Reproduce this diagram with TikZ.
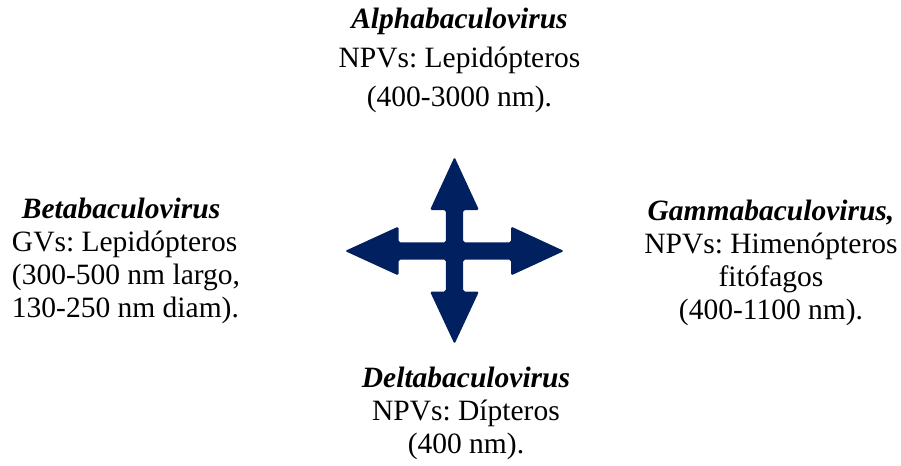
\documentclass[tikz,border=0pt]{standalone}
\usepackage{fontspec}
\setmainfont{Liberation Serif}
\usepackage{tikz}
\usepackage{xcolor}
\definecolor{navy}{HTML}{002060}
\frenchspacing

\begin{document}
\begin{tikzpicture}[x=0.5pt, y=-0.5pt]
    \tikzset{genus/.style={inner sep=0pt, font=\fontsize{14.75}{16.5}\selectfont}}
    \useasboundingbox (0,0) rectangle (901,466);

    % four-way arrow
    \coordinate (hub) at (454.5,251);
    \fill[navy, rounded corners=0.8pt] (454.5,157) -- (479,210) -- (463.2,210) -- (463.2,242.3)
        -- (511,242.3) -- (511,226.5) -- (564,251) -- (511,275.5) -- (511,259.7)
        -- (463.2,259.7) -- (463.2,291.5) -- (479,291.5) -- (454.5,344) -- (430,291.5)
        -- (445.8,291.5) -- (445.8,259.7) -- (398.5,259.7) -- (398.5,275.5) -- (345,251)
        -- (398.5,226.5) -- (398.5,242.3) -- (445.8,242.3) -- (445.8,210) -- (430,210) -- cycle;

    \node[genus, align=center, font=\fontsize{14.75}{19.5}\selectfont] (alpha) at (459.5,60.5)
        {\textbf{\textit{Alphabaculovirus}}\\NPVs: Lepidópteros\\(400-3000 nm).};
    \node[genus, align=left] (beta) at (126,261)
        {\hspace*{5pt}\textbf{\textit{Betabaculovirus}}\\GVs: Lepidópteros\\(300-500 nm largo,\\130-250 nm diam).};
    \node[genus, align=center] (gamma) at (771,262.5)
        {\textbf{\textit{Gammabaculovirus,}}\\NPVs: Himenópteros\\fitófagos\\(400-1100 nm).};
    \node[genus, align=center] (delta) at (466,413.5)
        {\textbf{\textit{Deltabaculovirus}}\\NPVs: Dípteros\\(400 nm).};
\end{tikzpicture}
\end{document}
